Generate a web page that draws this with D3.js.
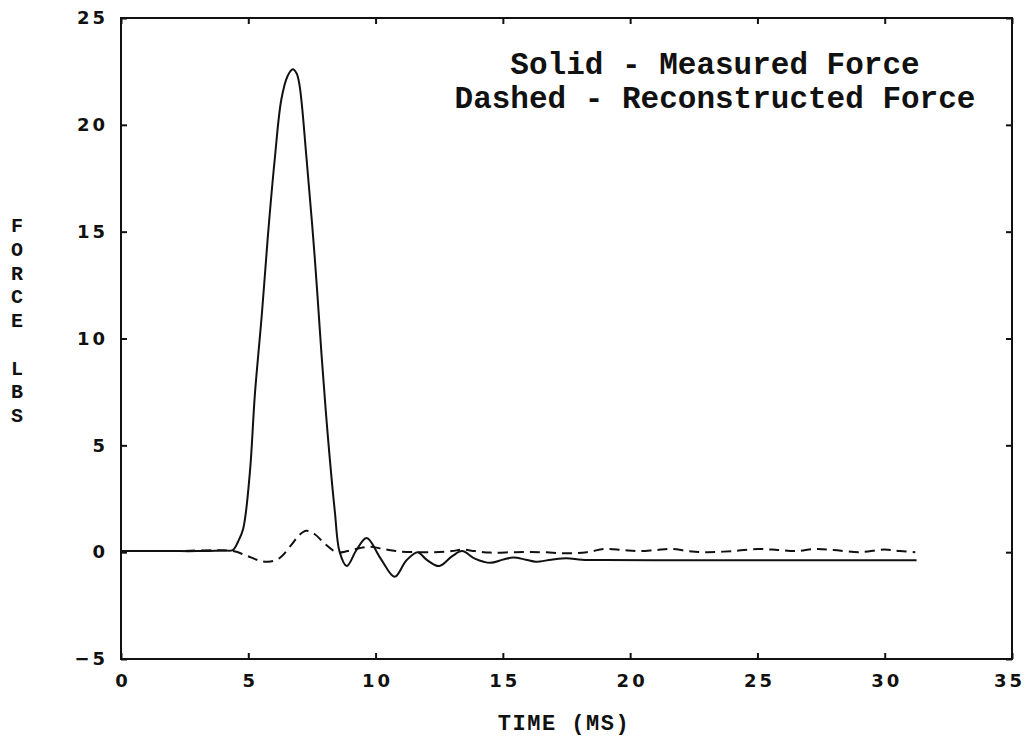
<!DOCTYPE html>
<html>
<head>
<meta charset="utf-8">
<script src="https://cdn.jsdelivr.net/npm/d3@7"></script>
<style>
  body { margin: 0; background: #fff; }
  svg { display: block; }
  .tick-label { font-family: "DejaVu Sans", "Liberation Sans", Arial, sans-serif; font-weight: bold; font-size: 18px; letter-spacing: 3px; fill: #111; }
  .mono { font-family: "Liberation Mono", "Courier New", monospace; font-weight: bold; fill: #111; }
</style>
</head>
<body>
<svg id="chart" width="1025" height="736"></svg>
<script>
// measured force (solid), time in ms, force in lbs
const measuredTime  = [0, 1, 2, 3, 4, 4.39, 4.6, 4.8, 5.06, 5.26, 5.53, 5.77, 6.04, 6.3, 6.55, 6.75, 6.9, 7.02, 7.29, 7.61, 7.88, 8.12, 8.4, 8.59, 8.87, 9.25, 9.65, 10.2, 10.75, 11.2, 11.65, 12.0, 12.5, 13.0, 13.4, 13.9, 14.5, 15.0, 15.4, 15.9, 16.3, 16.9, 17.5, 18.1, 19, 22, 25, 28, 31.25];
const measuredForce = [0.05, 0.05, 0.05, 0.05, 0.08, 0.1, 0.5, 1.1, 3.7, 7.4, 11.1, 14.8, 18.4, 21.2, 22.3, 22.6, 22.4, 21.8, 18.4, 13.8, 9.2, 5.5, 1.9, 0, -0.65, 0.1, 0.66, -0.3, -1.15, -0.4, 0.0, -0.35, -0.65, -0.2, 0.05, -0.3, -0.5, -0.35, -0.25, -0.35, -0.45, -0.35, -0.28, -0.35, -0.37, -0.38, -0.38, -0.38, -0.38];

// reconstructed force (dashed)
const reconTime  = [0, 2, 4.4, 4.9, 5.4, 5.77, 6.2, 6.7, 7.0, 7.28, 7.6, 8.0, 8.47, 8.9, 9.4, 9.8, 10.3, 10.8, 11.5, 12.3, 13.0, 13.4, 13.9, 14.5, 15.5, 16.5, 17.5, 18.3, 19.0, 19.7, 20.3, 21.0, 21.6, 22.3, 23.0, 24.0, 25.0, 25.8, 26.5, 27.3, 28.0, 29.0, 30.0, 30.6, 31.2];
const reconForce = [0.05, 0.05, 0.05, -0.15, -0.38, -0.45, -0.3, 0.35, 0.8, 1.0, 0.85, 0.4, 0.0, 0.05, 0.2, 0.25, 0.15, 0.05, 0.0, 0.0, 0.05, 0.12, 0.05, -0.02, 0.0, 0.0, -0.05, 0.0, 0.15, 0.1, 0.05, 0.1, 0.15, 0.05, 0.0, 0.05, 0.15, 0.1, 0.05, 0.15, 0.1, 0.0, 0.12, 0.05, 0.0];

const xTicks = [0, 5, 10, 15, 20, 25, 30, 35];
const yTicks = [-5, 0, 5, 10, 15, 20, 25];
const legendLines = ["Solid - Measured Force", "Dashed - Reconstructed Force"];
const yTitle = ["F", "O", "R", "C", "E", "", "L", "B", "S"];
const xTitle = "TIME (MS)";

const svg = d3.select("#chart");
const plotL = 121, plotR = 1012, plotT = 18, plotB = 659;

const x = d3.scaleLinear().domain([0, 35]).range([plotL, plotR]);
const y = d3.scaleLinear().domain([-5, 25]).range([plotB, plotT]);

// --- frame ---
svg.append("rect")
    .attr("x", plotL).attr("y", plotT)
    .attr("width", plotR - plotL).attr("height", plotB - plotT)
    .attr("fill", "none").attr("stroke", "#111").attr("stroke-width", 2);

// --- ticks (inward, all four sides) ---
const tk = 6;
const bottomAxis = svg.append("g").attr("transform", `translate(0,${plotB})`)
    .call(d3.axisBottom(x).tickValues(xTicks).tickSize(-tk).tickSizeOuter(0).tickPadding(15));
const topAxis = svg.append("g").attr("transform", `translate(0,${plotT})`)
    .call(d3.axisTop(x).tickValues(xTicks).tickSize(-tk).tickSizeOuter(0).tickFormat(""));
const leftAxis = svg.append("g").attr("transform", `translate(${plotL},0)`)
    .call(d3.axisLeft(y).tickValues(yTicks).tickSize(-tk).tickSizeOuter(0).tickPadding(13));
const rightAxis = svg.append("g").attr("transform", `translate(${plotR},0)`)
    .call(d3.axisRight(y).tickValues(yTicks).tickSize(-tk).tickSizeOuter(0).tickFormat(""));

[bottomAxis, topAxis, leftAxis, rightAxis].forEach(a => {
    a.attr("font-size", null).attr("font-family", null);
    a.select(".domain").remove();
    a.selectAll("line").attr("stroke", "#111").attr("stroke-width", 2);
    a.selectAll("text").attr("class", "tick-label");
});
// letter-spacing adds a trailing gap, so re-centre the x labels
bottomAxis.selectAll("text").attr("dy", "0.71em")
    .attr("dx", d => d === 35 ? -3 : 1.5);

// --- curves ---
const line = d3.line()
    .x(d => x(d[0]))
    .y(d => y(d[1]))
    .curve(d3.curveCatmullRom.alpha(0.5));

svg.append("path")
    .datum(d3.zip(measuredTime, measuredForce))
    .attr("d", line)
    .attr("fill", "none").attr("stroke", "#111").attr("stroke-width", 2);

svg.append("path")
    .datum(d3.zip(reconTime, reconForce))
    .attr("d", line)
    .attr("fill", "none").attr("stroke", "#111").attr("stroke-width", 2)
    .attr("stroke-dasharray", "10,6");

// --- legend text ---
svg.selectAll(".legend")
    .data(legendLines)
    .enter().append("text")
    .attr("class", "mono")
    .attr("x", 715)
    .attr("y", (d, i) => 74 + i * 34)
    .attr("text-anchor", "middle")
    .attr("font-size", 31)
    .text(d => d);

// --- axis titles ---
svg.selectAll(".ytitle")
    .data(yTitle)
    .enter().append("text")
    .attr("class", "mono")
    .attr("x", 17)
    .attr("y", (d, i) => 225 + i * 23.75)
    .attr("dy", "0.35em")
    .attr("text-anchor", "middle")
    .attr("font-size", 20)
    .text(d => d);

svg.append("text")
    .attr("class", "mono")
    .attr("x", 564).attr("y", 730)
    .attr("text-anchor", "middle")
    .attr("font-size", 22)
    .attr("letter-spacing", 1.5)
    .text(xTitle);
</script>
</body>
</html>
